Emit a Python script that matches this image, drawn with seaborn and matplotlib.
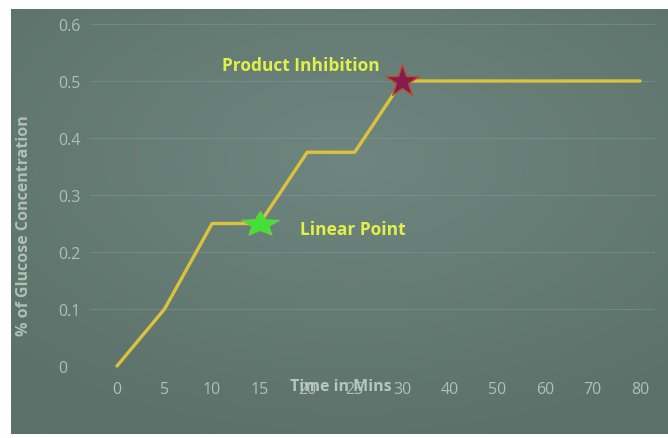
import numpy as np
import pandas as pd
import matplotlib
matplotlib.use("Agg")
import matplotlib.pyplot as plt
from matplotlib.path import Path
import seaborn as sns

# Glucose concentration over time
times = ["0", "5", "10", "15", "20", "25", "30", "40", "50", "60", "70", "80"]
glucose = [0.0, 0.1, 0.25, 0.25, 0.375, 0.375, 0.5, 0.5, 0.5, 0.5, 0.5, 0.5]
y_ticks = [0, 0.1, 0.2, 0.3, 0.4, 0.5, 0.6]
y_tick_labels = ["0", "0.1", "0.2", "0.3", "0.4", "0.5", "0.6"]

linear_label = "Linear Point"
linear_time = "15"
inhibition_label = "Product Inhibition"
inhibition_time = "30"

df = pd.DataFrame({"time": times, "glucose": glucose, "idx": np.arange(len(times))})

sns.set_theme(style="white")
plt.rcParams["font.family"] = ["Open Sans", "DejaVu Sans"]

W, H = 668, 439
fig = plt.figure(figsize=(W / 100, H / 100), dpi=100)
fig.patch.set_facecolor("white")

# Slate-green gradient panel behind the chart
bg = fig.add_axes([11 / W, 4 / H, (W - 11) / W, (H - 14) / H])
bg.set_axis_off()
ny, nx = 200, 300
yy, xx = np.mgrid[0:1:ny * 1j, 0:1:nx * 1j]
d = np.sqrt(((xx - 0.52) / 1.0) ** 2 + ((yy - 0.35) / 0.9) ** 2)
d = np.clip(d / 0.75, 0, 1)
light = np.array([0x6f, 0x86, 0x80]) / 255
dark = np.array([0x5b, 0x71, 0x69]) / 255
img = light[None, None, :] * (1 - d[..., None]) + dark[None, None, :] * d[..., None]
bg.imshow(img, aspect="auto", extent=[0, 1, 0, 1], origin="upper")

# Plot area
left, right = 90, 655
top, bottom = 25, 367
ax = fig.add_axes([left / W, (H - bottom) / H, (right - left) / W, (bottom - top) / H])
ax.set_facecolor("none")

sns.lineplot(data=df, x="idx", y="glucose", ax=ax, color="#dcc23c",
             linewidth=2.4, clip_on=False, zorder=3)

step = (640 - 117) / 11
ax.set_xlim(-(117 - left) / step, 11 + (right - 640) / step)
ax.set_ylim(0, 0.6)

# Star markers; the green one is stretched sideways
star = Path.unit_regular_star(5, 0.45)
wide_star = Path(star.vertices * np.array([1.5, 1.0]), star.codes)

li = times.index(linear_time)
pi = times.index(inhibition_time)
ax.plot(df.idx[li], glucose[li], marker=wide_star, markersize=27, color="#44e03a",
        markeredgecolor="#66d040", markeredgewidth=0.8, zorder=5, clip_on=False)
ax.plot(df.idx[pi], glucose[pi], marker="*", markersize=25, color="#861c4c",
        markeredgecolor="#b8502e", markeredgewidth=1.0, zorder=5, clip_on=False)

ax.text(df.idx[li] + 0.85, glucose[li] - 0.01, linear_label, color="#e2f04a",
        fontsize=12.5, fontweight="bold", ha="left", va="center")
ax.text(df.idx[pi] - 3.79, glucose[pi] + 0.028, inhibition_label, color="#e2f04a",
        fontsize=12.5, fontweight="bold", ha="left", va="center")

# Grid and ticks
ax.set_yticks(y_ticks)
ax.set_yticklabels(y_tick_labels)
ax.set_xticks(df.idx)
ax.set_xticklabels(times)
ax.grid(axis="y", color="#7d9490", linewidth=0.8, alpha=0.6)
ax.grid(axis="x", visible=False)
for s in ax.spines.values():
    s.set_visible(False)

tick_color = "#b0bfb8"
ax.tick_params(axis="x", length=0, pad=11, labelsize=11.5, labelcolor=tick_color)
ax.tick_params(axis="y", length=0, pad=23, labelsize=11.5, labelcolor=tick_color)
for lab in ax.get_yticklabels():
    lab.set_horizontalalignment("left")

ax.set_ylabel("% of Glucose Concentration", color=tick_color, fontsize=11.5,
              fontweight="bold")
ax.yaxis.set_label_coords((32 - left) / (right - left), (bottom - 226) / (bottom - top))
ax.set_xlabel("Time in Mins", color="#b8c6c0", fontsize=11.5, fontweight="bold")
ax.xaxis.set_label_coords((341 - left) / (right - left), -(387 - bottom) / (bottom - top))
ax.xaxis.label.set_va("center")

fig.savefig("out.png", dpi=100)
